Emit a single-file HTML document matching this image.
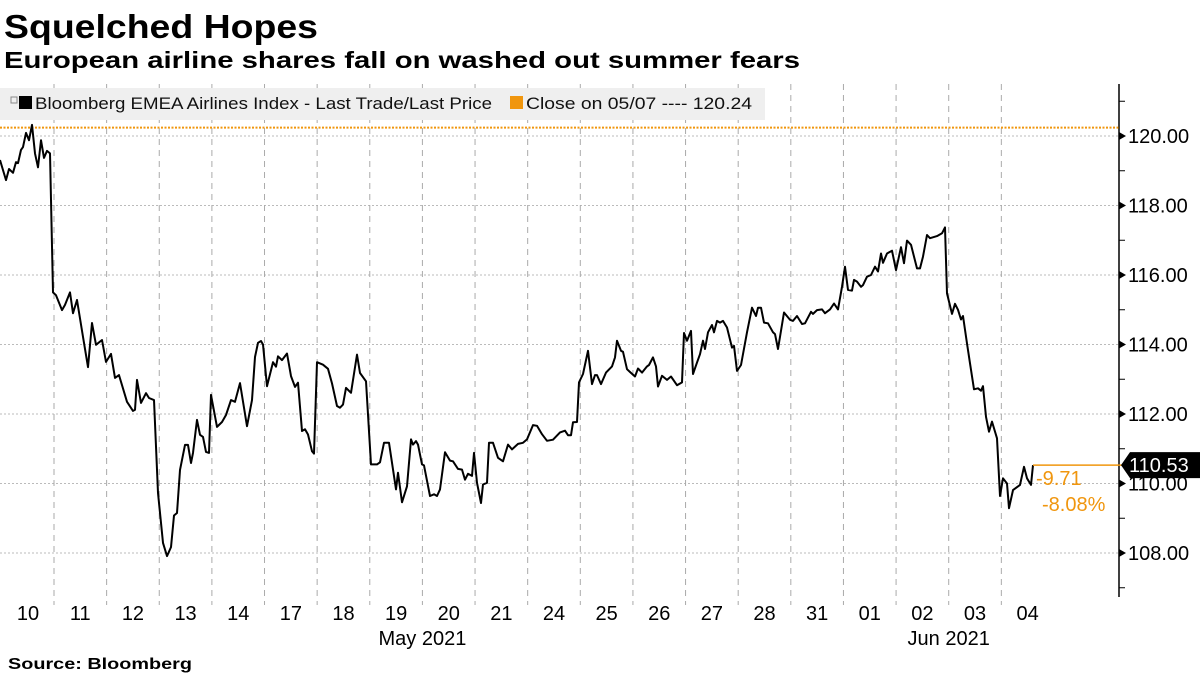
<!DOCTYPE html>
<html><head><meta charset="utf-8"><style>
html,body{margin:0;padding:0;background:#fff;}
svg{display:block;font-family:"Liberation Sans",sans-serif;}
</style></head><body>
<svg id="chart" width="1200" height="675" viewBox="0 0 1200 675">
<text x="4" y="38" font-size="33" font-weight="bold" fill="#000" textLength="314" lengthAdjust="spacingAndGlyphs">Squelched Hopes</text>
<text x="4" y="68" font-size="23" font-weight="bold" fill="#000" textLength="796" lengthAdjust="spacingAndGlyphs">European airline shares fall on washed out summer fears</text>
<g id="grid"></g>
<rect x="0" y="88" width="765" height="32" fill="#efefef"/>
<g>
<rect x="11" y="97" width="6" height="6" fill="none" stroke="#888" stroke-width="1"/>
<rect x="19" y="96" width="13" height="13" fill="#000"/>
<text x="35" y="109" font-size="16.5" fill="#111" textLength="457" lengthAdjust="spacingAndGlyphs">Bloomberg EMEA Airlines Index - Last Trade/Last Price</text>
</g>
<g>
<rect x="510" y="96" width="13" height="13" fill="#f0960e"/>
<text x="526" y="109" font-size="16.5" fill="#111" textLength="226" lengthAdjust="spacingAndGlyphs">Close on 05/07 ---- 120.24</text>
</g>
<g id="axes"></g>
<g id="series"></g>
<text x="8" y="669" font-size="16" font-weight="bold" fill="#000" textLength="184" lengthAdjust="spacingAndGlyphs">Source:  Bloomberg</text>
</svg>
<script>
const dayLabels=["10","11","12","13","14","17","18","19","20","21","24","25","26","27","28","31","01","02","03","04"];
const monthLabels=["May 2021","Jun 2021"];
const monthDayIndex=[8,18];
const yTicks=[108,110,112,114,116,118,120];
const yTickLabels=["108.00","110.00","112.00","114.00","116.00","118.00","120.00"];
const refClose=120.24;
const lastPrice=110.53;
const changeLabels=["-9.71","-8.08%"];
const times=[0,6,9,13,16,18,21,23,26,29,32,35,38,41,44,47,50,53,56,62,65,70,73,77,83,88,92,96,102,106,111,115,119,127,133,135,137,141,146,149,154,158,163,167,171,174,177,180,185,188,191,193,197,200,203,206,209,211,217,222,226,231,235,240,247,252,255,258,261,263,267,273,276,278,282,287,291,295,298,302,305,308,312,314,317,323,328,332,337,340,343,346,351,357,360,366,371,377,380,384,389,396,398,402,407,411,413,416,418,422,424,430,434,437,440,445,450,453,458,462,465,468,472,474,477,481,483,487,489,493,498,503,508,512,518,523,527,533,537,542,547,553,560,565,568,571,573,577,579,583,588,592,595,597,601,606,612,615,617,621,623,627,630,635,638,642,647,649,653,656,658,662,667,671,677,682,684,687,691,693,697,700,703,705,708,712,714,717,720,723,727,732,734,737,741,747,752,756,758,761,764,768,773,775,778,784,790,793,797,802,805,811,813,817,822,825,830,834,838,842,845,848,852,854,857,861,863,867,871,875,878,881,883,887,892,896,901,904,907,911,917,920,923,927,930,937,942,945,947,952,955,958,961,963,967,970,974,978,981,983,986,989,992,997,1000,1003,1007,1009,1013,1020,1024,1027,1031,1033];
const prices=[119.31,118.73,119.05,118.94,119.25,119.22,119.6,119.68,120.09,119.88,120.32,119.5,119.1,119.88,119.37,119.57,119.5,115.5,115.42,114.99,115.14,115.5,114.9,115.28,114.22,113.35,114.62,113.99,114.13,113.5,113.73,113.04,113.12,112.35,112.09,112.12,112.98,112.32,112.6,112.46,112.4,109.73,108.29,107.91,108.17,109.08,109.15,110.39,111.11,111.11,110.59,110.88,111.83,111.4,111.34,110.91,110.88,112.55,111.63,111.77,111.97,112.4,112.35,112.89,111.65,112.4,113.64,114.05,114.1,114.0,112.8,113.49,113.36,113.66,113.55,113.74,113.09,112.78,112.9,111.51,111.56,111.41,110.93,110.86,113.49,113.42,113.3,112.88,112.23,112.18,112.27,112.75,112.61,113.71,113.18,112.94,110.55,110.55,110.61,111.17,111.17,109.83,110.31,109.46,109.92,111.27,111.12,111.22,111.12,110.55,110.52,109.64,109.69,109.64,109.83,110.9,110.66,110.64,110.42,110.4,110.11,110.28,110.22,110.88,110.02,109.44,109.97,110.02,111.17,111.17,110.74,110.64,111.12,110.98,111.14,111.17,111.27,111.68,111.66,111.42,111.23,111.26,111.47,111.52,111.39,111.39,111.76,111.77,112.91,113.15,113.82,112.86,113.12,113.12,112.86,113.19,113.37,113.63,114.11,113.82,113.79,113.29,113.21,113.08,113.31,113.19,113.37,113.41,113.63,113.37,112.79,113.1,112.98,113.08,112.83,112.91,114.33,114.11,114.39,113.15,113.48,113.72,114.11,113.87,114.35,114.56,114.35,114.68,114.63,114.68,114.49,113.91,113.96,113.24,113.41,114.35,115.06,114.82,115.06,115.06,114.63,114.61,114.35,114.3,113.87,114.92,114.71,114.68,114.82,114.59,114.61,114.94,114.88,114.99,115.01,114.9,115.01,115.18,115.01,115.66,116.24,115.57,115.55,115.86,115.81,115.66,115.71,115.95,116.0,116.24,116.1,116.62,116.35,116.62,116.7,116.14,116.8,116.34,116.99,116.87,116.19,116.19,116.53,117.15,117.06,117.12,117.2,117.37,115.47,114.88,115.17,115.0,114.72,114.82,114.03,113.46,112.71,112.74,112.67,112.8,111.92,111.49,111.78,111.3,109.64,110.15,110.0,109.29,109.81,109.96,110.48,110.15,109.96,110.53];

const NS="http://www.w3.org/2000/svg";
const PL=0,PR=1119,PT=84,PB=597;
const dayW=52.63, firstDayEnd=54;
function xDay(k){return k===0?0:firstDayEnd+dayW*(k-1);}
function xT(t){return PL+t;}
function yV(v){return 136+(120-v)*34.75;}
function mk(tag,attrs,parent){const e=document.createElementNS(NS,tag);for(const k in attrs)e.setAttribute(k,attrs[k]);parent.appendChild(e);return e;}
const grid=document.getElementById('grid'),axes=document.getElementById('axes'),series=document.getElementById('series');

yTicks.forEach((v,i)=>{
 const l=mk('line',{x1:0,x2:PR,y1:yV(v),y2:yV(v),stroke:'#bbb','stroke-width':1,'stroke-dasharray':'2,2'},grid);
 
 
 const tri=mk('path',{d:`M${PR} ${yV(v)-4}L${PR+7} ${yV(v)}L${PR} ${yV(v)+4}Z`,fill:'#000'},axes);
 
 
 const t=mk('text',{x:PR+9,y:yV(v)+7,'font-size':20,fill:'#000'},axes);
 t.textContent=yTickLabels[i];
 
 
 const m=mk('line',{x1:PR,x2:PR+6,y1:yV(v+1),y2:yV(v+1),stroke:'#000','stroke-width':1},axes);
 
 
});
const m0=mk('line',{x1:PR,x2:PR+6,y1:yV(107),y2:yV(107),stroke:'#000','stroke-width':1},axes);


for(let k=1;k<dayLabels.length;k++){
 const x=xDay(k);
 const l=mk('line',{x1:x,x2:x,y1:PT,y2:PB+8,stroke:'#aaa','stroke-width':1,'stroke-dasharray':'6,5'},grid);
 
 
}
dayLabels.forEach((d,k)=>{
 const cx=k===0?28:xDay(k)+dayW/2;
 const t=mk('text',{x:cx,y:620,'font-size':20,'text-anchor':'middle',fill:'#000'},axes);
 t.textContent=d;
 
 
});
monthLabels.forEach((m,i)=>{
 const t=mk('text',{x:xDay(monthDayIndex[i]),y:645,'font-size':20,'text-anchor':'middle',fill:'#000'},axes);
 t.textContent=m;
 
 
});
const ax=mk('line',{x1:PR,x2:PR,y1:PT,y2:PB,stroke:'#000','stroke-width':1.5},axes);



const ref=mk('line',{x1:0,x2:PR,y1:yV(refClose),y2:yV(refClose),stroke:'#f0960e','stroke-width':2,'stroke-dasharray':'2,1.5'},series);



let d='';
prices.forEach((p,i)=>{d+=(i?'L':'M')+xT(times[i]).toFixed(1)+' '+yV(p).toFixed(1);});
const path=mk('path',{d:d,fill:'none',stroke:'#000','stroke-width':2,'stroke-linejoin':'round'},series);



const lastX=xT(times[times.length-1]), lastY=yV(lastPrice);
const ol=mk('line',{x1:lastX,x2:1122,y1:lastY,y2:lastY,stroke:'#f0960e','stroke-width':1.5},series);


const tag=mk('path',{d:`M1121 ${lastY}L1130 ${lastY-13}L1200 ${lastY-13}L1200 ${lastY+13}L1130 ${lastY+13}Z`,fill:'#000'},series);


const tt=mk('text',{x:1129,y:lastY+7,'font-size':20,fill:'#fff'},series);
tt.textContent=lastPrice.toFixed(2);


const c1=mk('text',{x:lastX+3,y:lastY+20,'font-size':20,fill:'#f0960e'},series);
c1.textContent=changeLabels[0];


const c2=mk('text',{x:lastX+9,y:lastY+46,'font-size':20,fill:'#f0960e'},series);
c2.textContent=changeLabels[1];


</script>
</body></html>
